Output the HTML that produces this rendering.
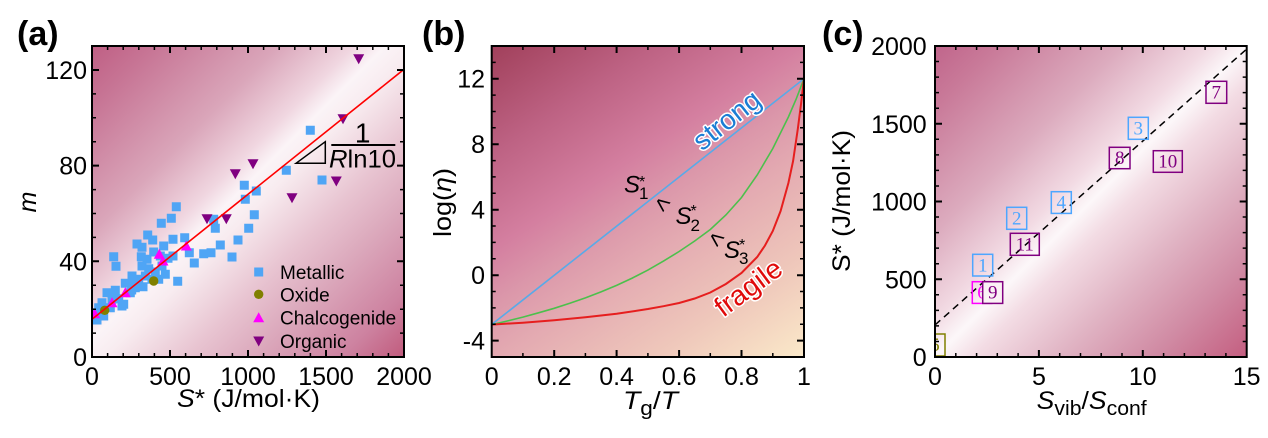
<!DOCTYPE html>
<html><head><meta charset="utf-8"><style>
html,body{margin:0;padding:0;background:#fff;width:1268px;height:438px;overflow:hidden}
svg{display:block}
</style></head><body>
<svg width="1268" height="438" viewBox="0 0 1268 438" xmlns="http://www.w3.org/2000/svg" font-family="'Liberation Sans', Arial, sans-serif">
<defs>
<linearGradient id="ga" x1="0" y1="0" x2="1" y2="1">
<stop offset="0" stop-color="#bf5f84"/><stop offset="0.1" stop-color="#c77595"/><stop offset="0.3" stop-color="#daa6ba"/><stop offset="0.42" stop-color="#f0d6e0"/><stop offset="0.47" stop-color="#fbf4f7"/><stop offset="0.52" stop-color="#f8ecf0"/><stop offset="0.65" stop-color="#e8c4d1"/><stop offset="0.75" stop-color="#dcaabd"/><stop offset="0.9" stop-color="#cd82a0"/><stop offset="1" stop-color="#c15b7d"/>
</linearGradient>
<linearGradient id="gb" x1="0" y1="0" x2="0.8" y2="1.2">
<stop offset="0" stop-color="#a1405b"/><stop offset="0.2" stop-color="#bd6283"/><stop offset="0.38" stop-color="#d47fa0"/><stop offset="0.48" stop-color="#db97aa"/><stop offset="0.58" stop-color="#e3a9b1"/><stop offset="0.78" stop-color="#efc8bb"/><stop offset="1" stop-color="#fdf0cc"/>
</linearGradient>
<linearGradient id="gc" x1="0" y1="0" x2="1" y2="1">
<stop offset="0" stop-color="#c0658b"/><stop offset="0.1" stop-color="#c97a99"/><stop offset="0.3" stop-color="#dcabbe"/><stop offset="0.44" stop-color="#f2dae3"/><stop offset="0.5" stop-color="#fcf7f9"/><stop offset="0.56" stop-color="#f3dce4"/><stop offset="0.7" stop-color="#e0b3c3"/><stop offset="0.85" stop-color="#d08aa3"/><stop offset="1" stop-color="#c45e80"/>
</linearGradient>
<clipPath id="ca"><rect x="92" y="46" width="312" height="311"/></clipPath>
<clipPath id="cb"><rect x="491.7" y="46" width="312.3" height="311"/></clipPath>
<clipPath id="cc"><rect x="935" y="46" width="311.7" height="311"/></clipPath>
</defs>

<!-- ============ PANEL A ============ -->
<rect x="92" y="46" width="312" height="311" fill="url(#ga)"/>
<g clip-path="url(#ca)">
<path fill="#4fa5f5" d="M305.8 125.8h9v9h-9zM281.8 165.8h9v9h-9zM317.5 175.5h9v9h-9zM239.8 180.8h9v9h-9zM251.8 186.5h9v9h-9zM240.8 194.8h9v9h-9zM249.8 210.2h9v9h-9zM244.2 223.8h9v9h-9zM233.5 235.5h9v9h-9zM227.5 252.5h9v9h-9zM215.8 240.5h9v9h-9zM206.5 248.2h9v9h-9zM199.2 249.2h9v9h-9zM189.8 258.5h9v9h-9zM210.8 223.8h9v9h-9zM209.2 214.8h9v9h-9zM184.8 248.2h9v9h-9zM180.2 233.2h9v9h-9zM171.8 202.2h9v9h-9zM166.8 213.8h9v9h-9zM156.8 218.8h9v9h-9zM168.5 234.8h9v9h-9zM168.5 251.5h9v9h-9zM173.2 276.8h9v9h-9zM159.2 241.5h9v9h-9zM148.2 235.5h9v9h-9zM143.2 230.5h9v9h-9zM132.5 239.5h9v9h-9zM137.5 242.8h9v9h-9zM149.2 247.5h9v9h-9zM155.8 251.5h9v9h-9zM136.8 252.2h9v9h-9zM109.2 252.2h9v9h-9zM111.5 261.8h9v9h-9zM157.5 261.5h9v9h-9zM160.8 269.8h9v9h-9zM150.8 267.5h9v9h-9zM144.2 264.2h9v9h-9zM137.5 261.5h9v9h-9zM140.8 271.5h9v9h-9zM134.2 274.8h9v9h-9zM130.8 283.2h9v9h-9zM125.8 278.8h9v9h-9zM120.8 278.8h9v9h-9zM110.8 285.8h9v9h-9zM114.2 294.2h9v9h-9zM119.2 299.8h9v9h-9zM117.5 301.5h9v9h-9zM107.5 294.8h9v9h-9zM97.5 298.2h9v9h-9zM94.2 303.2h9v9h-9zM90.8 308.2h9v9h-9zM92.5 315.5h9v9h-9zM99.2 311.5h9v9h-9zM105.8 303.2h9v9h-9zM129.2 278.2h9v9h-9zM142.5 254.8h9v9h-9zM163.5 253.8h9v9h-9zM125.8 288.2h9v9h-9zM147.5 274.8h9v9h-9zM127.5 271.5h9v9h-9zM154.2 274.8h9v9h-9zM138.5 282.2h9v9h-9zM127.2 285.5h9v9h-9zM102.5 288.2h9v9h-9z"/>
<circle cx="153.7" cy="281" r="4.7" fill="#808000"/>
<circle cx="104.7" cy="310.3" r="4.7" fill="#808000"/>
<path fill="#ff00ff" d="M94.7 308.2L100.2 318.2L89.2 318.2ZM112 297.2L117.5 307.2L106.5 307.2ZM125.3 287.2L130.8 297.2L119.8 297.2ZM159.3 248.8L164.8 258.8L153.8 258.8ZM163 255.5L168.5 265.5L157.5 265.5ZM186.3 240.5L191.8 250.5L180.8 250.5Z"/>
<path fill="#800080" d="M353.2 54.2L364.2 54.2L358.7 64.2ZM337.5 114.2L348.5 114.2L343 124.2ZM247.5 159.2L258.5 159.2L253 169.2ZM229.8 169.2L240.8 169.2L235.3 179.2ZM330.8 176.5L341.8 176.5L336.3 186.5ZM286.5 193.2L297.5 193.2L292 203.2ZM201.5 214.2L212.5 214.2L207 224.2ZM220.8 214.2L231.8 214.2L226.3 224.2Z"/>
<line x1="92" y1="319.3" x2="404" y2="69.3" stroke="#ff0000" stroke-width="1.6"/>
</g>
<!-- slope triangle -->
<path d="M296 163.3L325.3 141.7L325.3 163.3Z" fill="none" stroke="#000" stroke-width="1.5"/>
<line x1="331.3" y1="145" x2="395.3" y2="145" stroke="#000" stroke-width="2"/>
<text x="362.7" y="142.5" font-size="28" text-anchor="middle">1</text>
<text x="329" y="167.5" font-size="25" textLength="67" lengthAdjust="spacingAndGlyphs"><tspan font-style="italic">R</tspan>ln10</text>
<!-- legend -->
<rect x="254.2" y="267.5" width="9" height="9" fill="#4fa5f5"/>
<circle cx="258.7" cy="294.3" r="4.7" fill="#808000"/>
<path d="M258.7 312.2L264.2 322.2L253.2 322.2Z" fill="#ff00ff"/>
<path d="M253.2 336.5L264.2 336.5L258.7 346.5Z" fill="#800080"/>
<g font-size="19" fill="#000">
<text x="280" y="279">Metallic</text>
<text x="280" y="301.3">Oxide</text>
<text x="280" y="324.7">Chalcogenide</text>
<text x="280" y="348">Organic</text>
</g>
<!-- ticks a -->
<path fill="none" stroke="#000" stroke-width="1.5" d="M107.6 357v-4M107.6 46v4M123.2 357v-4M123.2 46v4M138.8 357v-4M138.8 46v4M154.4 357v-4M154.4 46v4M185.6 357v-4M185.6 46v4M201.2 357v-4M201.2 46v4M216.8 357v-4M216.8 46v4M232.4 357v-4M232.4 46v4M263.6 357v-4M263.6 46v4M279.2 357v-4M279.2 46v4M294.8 357v-4M294.8 46v4M310.4 357v-4M310.4 46v4M341.6 357v-4M341.6 46v4M357.2 357v-4M357.2 46v4M372.8 357v-4M372.8 46v4M388.4 357v-4M388.4 46v4M92 333.1h4M404 333.1h-4M92 309.2h4M404 309.2h-4M92 285.2h4M404 285.2h-4M92 237.4h4M404 237.4h-4M92 213.5h4M404 213.5h-4M92 189.6h4M404 189.6h-4M92 141.7h4M404 141.7h-4M92 117.8h4M404 117.8h-4M92 93.9h4M404 93.9h-4"/>
<path fill="none" stroke="#000" stroke-width="2" d="M170 357v-7M170 46v7M248 357v-7M248 46v7M326 357v-7M326 46v7M92 261.3h7M404 261.3h-7M92 165.6h7M404 165.6h-7M92 70h7M404 70h-7"/>
<rect x="92" y="46" width="312" height="311" fill="none" stroke="#000" stroke-width="2"/>
<g font-size="25" fill="#000">
<text x="87" y="366" text-anchor="end">0</text>
<text x="87" y="270.3" text-anchor="end">40</text>
<text x="87" y="174.6" text-anchor="end">80</text>
<text x="87" y="79" text-anchor="end">120</text>
<text x="92" y="385" text-anchor="middle">0</text>
<text x="170" y="385" text-anchor="middle">500</text>
<text x="248" y="385" text-anchor="middle">1000</text>
<text x="326" y="385" text-anchor="middle">1500</text>
<text x="404" y="385" text-anchor="middle">2000</text>
<text x="177" y="407" textLength="143" lengthAdjust="spacingAndGlyphs"><tspan font-style="italic">S</tspan>* (J/mol·K)</text>
<text x="36" y="202" text-anchor="middle" font-style="italic" transform="rotate(-90 36 202)">m</text>
</g>
<text x="17" y="45" font-size="34" font-weight="bold">(a)</text>

<!-- ============ PANEL B ============ -->
<rect x="491.7" y="46" width="312.3" height="311" fill="url(#gb)"/>
<g clip-path="url(#cb)" fill="none">
<line x1="491.7" y1="324.5" x2="804" y2="78.7" stroke="#58aae8" stroke-width="1.6"/>
<path stroke="#4cc04c" stroke-width="1.6" d="M491.7 324.6L507.3 321L522.9 317.1L538.5 312.8L554.2 308.3L569.8 303.3L585.4 297.9L601 291.9L616.6 285.4L632.2 278.1L647.9 270.1L663.5 261.1L679.1 251.5L694.7 241L710.3 229.5L725.9 215L741.5 197.5L757.2 175L772.8 148.5L788.4 117L796.2 99L804 78.7"/>
<path stroke="#e61e1e" stroke-width="2" d="M491.7 324.6L522.9 322.7L554.2 320.3L585.4 317.3L616.6 313.8L647.9 309L663.5 306.2L679.1 303L694.7 298.5L710.3 292.5L725.9 284L741.5 273L757.2 257L765 245.5L772.8 231L780.6 211L788.4 183L793.1 161L797.8 129L800.9 105L804 78.7"/>
</g>
<g font-size="28" stroke="#fff" stroke-width="3" paint-order="stroke" stroke-linejoin="round">
<text x="726.7" y="120" text-anchor="middle" dominant-baseline="central" fill="#1a7dd4" transform="rotate(-38.3 726.7 120)">strong</text>
<text x="748.3" y="287.5" text-anchor="middle" dominant-baseline="central" fill="#e00a0a" transform="rotate(-36.5 748.3 287.5)">fragile</text>
</g>
<g fill="#000">
<text x="624" y="192.5" font-size="24" font-style="italic">S</text>
<text x="639" y="187" font-size="16">*</text>
<text x="639" y="199" font-size="17">1</text>
<text x="675.5" y="224" font-size="24" font-style="italic">S</text>
<text x="690.5" y="216" font-size="16">*</text>
<text x="690.5" y="231" font-size="17">2</text>
<text x="724" y="258" font-size="24" font-style="italic">S</text>
<text x="739" y="250" font-size="16">*</text>
<text x="739" y="264" font-size="17">3</text>
<text x="662" y="204" font-size="24" text-anchor="middle" dominant-baseline="central" transform="rotate(38 662 204)">&lt;</text>
<text x="716" y="239" font-size="24" text-anchor="middle" dominant-baseline="central" transform="rotate(38 716 239)">&lt;</text>
</g>
<path fill="none" stroke="#000" stroke-width="1.5" d="M522.9 357v-4M522.9 46v4M585.4 357v-4M585.4 46v4M647.9 357v-4M647.9 46v4M710.3 357v-4M710.3 46v4M772.8 357v-4M772.8 46v4M491.7 62.4h4M804 62.4h-4M491.7 95.1h4M804 95.1h-4M491.7 111.5h4M804 111.5h-4M491.7 127.8h4M804 127.8h-4M491.7 160.6h4M804 160.6h-4M491.7 176.9h4M804 176.9h-4M491.7 193.3h4M804 193.3h-4M491.7 226h4M804 226h-4M491.7 242.4h4M804 242.4h-4M491.7 258.8h4M804 258.8h-4M491.7 291.5h4M804 291.5h-4M491.7 307.9h4M804 307.9h-4M491.7 324.3h4M804 324.3h-4"/>
<path fill="none" stroke="#000" stroke-width="2" d="M554.2 357v-7M554.2 46v7M616.6 357v-7M616.6 46v7M679.1 357v-7M679.1 46v7M741.5 357v-7M741.5 46v7M491.7 78.7h7M804 78.7h-7M491.7 144.2h7M804 144.2h-7M491.7 209.7h7M804 209.7h-7M491.7 275.2h7M804 275.2h-7M491.7 340.6h7M804 340.6h-7"/>
<rect x="491.7" y="46" width="312.3" height="311" fill="none" stroke="#000" stroke-width="2"/>
<g font-size="25" fill="#000">
<text x="485" y="87.7" text-anchor="end">12</text>
<text x="485" y="153.2" text-anchor="end">8</text>
<text x="485" y="218.7" text-anchor="end">4</text>
<text x="485" y="284.2" text-anchor="end">0</text>
<text x="485" y="349.6" text-anchor="end">-4</text>
<text x="491.7" y="385" text-anchor="middle">0</text>
<text x="554.2" y="385" text-anchor="middle">0.2</text>
<text x="616.6" y="385" text-anchor="middle">0.4</text>
<text x="679.1" y="385" text-anchor="middle">0.6</text>
<text x="741.5" y="385" text-anchor="middle">0.8</text>
<text x="804" y="385" text-anchor="middle">1</text>
<text x="623" y="409" textLength="55" lengthAdjust="spacingAndGlyphs"><tspan font-style="italic">T</tspan><tspan font-size="20" dy="6">g</tspan><tspan dy="-6">/</tspan><tspan font-style="italic">T</tspan></text>
<text x="451" y="237" textLength="69" lengthAdjust="spacingAndGlyphs" transform="rotate(-90 451 237)">log(<tspan font-style="italic">η</tspan>)</text>
</g>
<text x="422" y="45" font-size="34" font-weight="bold">(b)</text>

<!-- ============ PANEL C ============ -->
<rect x="935" y="46" width="311.7" height="311" fill="url(#gc)"/>
<g clip-path="url(#cc)">
<line x1="935" y1="325" x2="1246.7" y2="49" stroke="#000" stroke-width="1.5" stroke-dasharray="7 5"/>
<g fill="none" stroke-width="1.5">
<rect x="925" y="334" width="20" height="22" stroke="#808000"/>
<rect x="972.3" y="281.7" width="19.5" height="21.7" stroke="#ff00ff"/>
<rect x="972.7" y="254.3" width="20" height="21.7" stroke="#4da6ff"/>
<rect x="1006.7" y="207.3" width="20" height="22" stroke="#4da6ff"/>
<rect x="1128.3" y="117.3" width="20" height="22" stroke="#4da6ff"/>
<rect x="1051.3" y="191.7" width="20" height="21.7" stroke="#4da6ff"/>
<rect x="1206" y="81.3" width="20.7" height="22" stroke="#800080"/>
<rect x="1109.3" y="147.3" width="20.7" height="21.4" stroke="#800080"/>
<rect x="1153.3" y="150.7" width="29" height="21.6" stroke="#800080"/>
<rect x="1010.3" y="233.3" width="29" height="22" stroke="#800080"/>
</g>
<g font-family="'Liberation Serif', 'DejaVu Serif', serif" font-size="19" text-anchor="middle">
<text x="935" y="351" fill="#808000">5</text>
<text x="982" y="298.5" fill="#ff00ff">6</text>
<rect x="982.7" y="281.7" width="20" height="21.7" fill="#faf1f4" stroke="#800080" stroke-width="1.5"/>
<text x="992.7" y="298.5" fill="#800080">9</text>
<text x="982.7" y="271.5" fill="#4da6ff">1</text>
<text x="1016.7" y="224.5" fill="#4da6ff">2</text>
<text x="1138.3" y="134.5" fill="#4da6ff">3</text>
<text x="1061.3" y="208.5" fill="#4da6ff">4</text>
<text x="1216.3" y="98.5" fill="#800080">7</text>
<text x="1119.7" y="164" fill="#800080">8</text>
<text x="1167.8" y="167.5" fill="#800080">10</text>
<text x="1024.8" y="250.5" fill="#800080">11</text>
</g>
</g>
<path fill="none" stroke="#000" stroke-width="1.5" d="M955.8 357v-4M955.8 46v4M976.6 357v-4M976.6 46v4M997.3 357v-4M997.3 46v4M1018.1 357v-4M1018.1 46v4M1059.7 357v-4M1059.7 46v4M1080.5 357v-4M1080.5 46v4M1101.2 357v-4M1101.2 46v4M1122 357v-4M1122 46v4M1163.6 357v-4M1163.6 46v4M1184.4 357v-4M1184.4 46v4M1205.1 357v-4M1205.1 46v4M1225.9 357v-4M1225.9 46v4M935 341.45h4M1246.7 341.45h-4M935 325.9h4M1246.7 325.9h-4M935 310.35h4M1246.7 310.35h-4M935 294.8h4M1246.7 294.8h-4M935 263.7h4M1246.7 263.7h-4M935 248.15h4M1246.7 248.15h-4M935 232.6h4M1246.7 232.6h-4M935 217.05h4M1246.7 217.05h-4M935 185.95h4M1246.7 185.95h-4M935 170.4h4M1246.7 170.4h-4M935 154.85h4M1246.7 154.85h-4M935 139.3h4M1246.7 139.3h-4M935 108.2h4M1246.7 108.2h-4M935 92.65h4M1246.7 92.65h-4M935 77.1h4M1246.7 77.1h-4M935 61.55h4M1246.7 61.55h-4"/>
<path fill="none" stroke="#000" stroke-width="2" d="M1038.9 357v-7M1038.9 46v7M1142.8 357v-7M1142.8 46v7M935 279.25h7M1246.7 279.25h-7M935 201.5h7M1246.7 201.5h-7M935 123.75h7M1246.7 123.75h-7"/>
<rect x="935" y="46" width="311.7" height="311" fill="none" stroke="#000" stroke-width="2"/>
<g font-size="25" fill="#000">
<text x="926.7" y="55" text-anchor="end">2000</text>
<text x="926.7" y="132.75" text-anchor="end">1500</text>
<text x="926.7" y="210.5" text-anchor="end">1000</text>
<text x="926.7" y="288.25" text-anchor="end">500</text>
<text x="926.7" y="366" text-anchor="end">0</text>
<text x="935" y="385" text-anchor="middle">0</text>
<text x="1038.9" y="385" text-anchor="middle">5</text>
<text x="1142.8" y="385" text-anchor="middle">10</text>
<text x="1246.7" y="385" text-anchor="middle">15</text>
<text x="1036.7" y="409" textLength="110" lengthAdjust="spacingAndGlyphs"><tspan font-style="italic">S</tspan><tspan font-size="20" dy="6">vib</tspan><tspan dy="-6">/</tspan><tspan font-style="italic">S</tspan><tspan font-size="20" dy="6">conf</tspan></text>
<text x="850" y="272" textLength="142" lengthAdjust="spacingAndGlyphs" transform="rotate(-90 850 272)">S* (J/mol·K)</text>
</g>
<text x="822" y="45" font-size="34" font-weight="bold">(c)</text>
</svg>
</body></html>
